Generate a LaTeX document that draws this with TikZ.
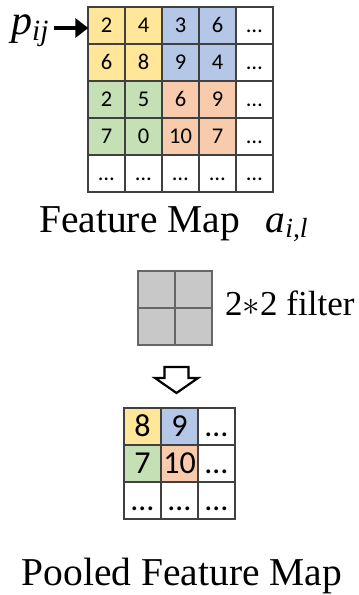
\RequirePackage{fix-cm}
\documentclass[tikz,border=0pt]{standalone}
\usepackage{fontspec}
\setmainfont{Liberation Serif}
\newfontfamily\cellfont{Carlito}
\usetikzlibrary{arrows.meta}
\definecolor{cyel}{HTML}{FFE699}
\definecolor{cblu}{HTML}{B4C7E7}
\definecolor{cgrn}{HTML}{C5E0B4}
\definecolor{corg}{HTML}{F8CBAD}
\definecolor{cflt}{HTML}{C8C8C8}
\definecolor{cline}{HTML}{404040}
\begin{document}
\begin{tikzpicture}[x=1pt,y=-1pt]
	\tikzstyle{cell}=[draw=cline,line width=1.4pt,minimum size=37pt,inner sep=0pt,text height=14pt,text depth=0pt,font=\cellfont\fontsize{22.5}{22.5}\selectfont]
	\tikzstyle{big}=[cell,text height=20pt,font=\cellfont\fontsize{32}{32}\selectfont]
	\tikzstyle{flt}=[cell,fill=cflt,draw=cline!80]
	\tikzstyle{lbl}=[inner sep=0pt,font=\fontsize{39.5}{40}\selectfont]
	\useasboundingbox (0,0) rectangle (359,595);
	
	% feature map
	\begin{scope}
	\node[cell,fill=cyel] (f-11) at (106.5,25.5) {2};
	\node[cell,fill=cyel] (f-12) at (143.5,25.5) {4};
	\node[cell,fill=cblu] (f-13) at (180.5,25.5) {3};
	\node[cell,fill=cblu] (f-14) at (217.5,25.5) {6};
	\node[cell] (f-15) at (254.5,25.5) {…};
	\node[cell,fill=cyel] (f-21) at (106.5,62.5) {6};
	\node[cell,fill=cyel] (f-22) at (143.5,62.5) {8};
	\node[cell,fill=cblu] (f-23) at (180.5,62.5) {9};
	\node[cell,fill=cblu] (f-24) at (217.5,62.5) {4};
	\node[cell] (f-25) at (254.5,62.5) {…};
	\node[cell,fill=cgrn] (f-31) at (106.5,99.5) {2};
	\node[cell,fill=cgrn] (f-32) at (143.5,99.5) {5};
	\node[cell,fill=corg] (f-33) at (180.5,99.5) {6};
	\node[cell,fill=corg] (f-34) at (217.5,99.5) {9};
	\node[cell] (f-35) at (254.5,99.5) {…};
	\node[cell,fill=cgrn] (f-41) at (106.5,136.5) {7};
	\node[cell,fill=cgrn] (f-42) at (143.5,136.5) {0};
	\node[cell,fill=corg] (f-43) at (180.5,136.5) {10};
	\node[cell,fill=corg] (f-44) at (217.5,136.5) {7};
	\node[cell] (f-45) at (254.5,136.5) {…};
	\node[cell] (f-51) at (106.5,173.5) {…};
	\node[cell] (f-52) at (143.5,173.5) {…};
	\node[cell] (f-53) at (180.5,173.5) {…};
	\node[cell] (f-54) at (217.5,173.5) {…};
	\node[cell] (f-55) at (254.5,173.5) {…};
	\end{scope}
	
	\node[lbl,anchor=base west,font=\fontsize{42}{42}\selectfont] (pij) at (11,34) {\itshape p\textsubscript{ij}};
	\draw[line width=4.5pt,-{Triangle[length=13pt,width=19pt]}] ([xshift=5pt,yshift=-2.5pt]pij.east |- f-11.west) -- ([xshift=1pt,yshift=-2.5pt]f-11.west);
	\node[lbl,anchor=base west] (fmap) at (39,232) {Feature Map\hspace{0.65em}{\itshape a}\textsubscript{\itshape i,l}};
	
	% filter
	\begin{scope}
	\node[flt] (k-11) at (156.5,289.5) {};
	\node[flt] (k-12) at (193.5,289.5) {};
	\node[flt] (k-21) at (156.5,326.5) {};
	\node[flt] (k-22) at (193.5,326.5) {};
	\end{scope}
	\node[lbl,anchor=base west,font=\fontsize{35}{35}\selectfont] (klabel) at (225,315) {2$\ast$2 filter};
	
	\draw[line width=2.2pt] (164.5,367) -- (188.5,367) -- (188.5,378) -- (198,378) -- (176.5,393) -- (155,378) -- (164.5,378) -- cycle;
	
	% pooled map
	\begin{scope}
	\node[big,fill=cyel] (p-11) at (142.5,426.5) {8};
	\node[big,fill=cblu] (p-12) at (179.5,426.5) {9};
	\node[big] (p-13) at (216.5,426.5) {…};
	\node[big,fill=cgrn] (p-21) at (142.5,463.5) {7};
	\node[big,fill=corg] (p-22) at (179.5,463.5) {10};
	\node[big] (p-23) at (216.5,463.5) {…};
	\node[big] (p-31) at (142.5,500.5) {…};
	\node[big] (p-32) at (179.5,500.5) {…};
	\node[big] (p-33) at (216.5,500.5) {…};
	\end{scope}
	\node[lbl,anchor=base] (pmap) at (182,585) {Pooled Feature Map};
\end{tikzpicture}
\end{document}
